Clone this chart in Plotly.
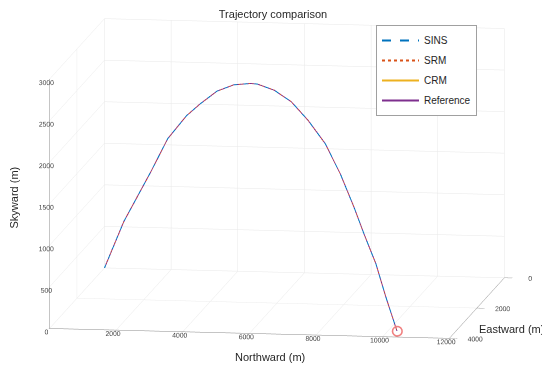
import plotly.graph_objects as go

# Trajectory samples (metres)
northward = [0, 680, 1630, 2220, 2880, 3350, 3950, 4540, 5130, 5370,
             5960, 6560, 7150, 7750, 8280, 8760, 9110, 9530, 9880, 10270]
eastward = [0, 239, 574, 781, 1014, 1179, 1390, 1598, 1806, 1890,
            2098, 2309, 2517, 2728, 2915, 3084, 3207, 3355, 3478, 3615]
skyward = [0, 610, 1280, 1720, 2045, 2220, 2420, 2540, 2600, 2610,
           2580, 2485, 2305, 2070, 1745, 1380, 1085, 755, 380, 0]

series_names = ["SINS", "SRM", "CRM", "Reference"]
series_colors = ["#0072BD", "#D95319", "#EDB120", "#7E2F8E"]
series_dash = ["dash", "dot", "solid", "solid"]
draw_order = [2, 3, 1, 0]  # CRM, Reference, SRM, SINS (legend keeps SINS..Reference)

x_ticks = [0, 2000, 4000, 6000, 8000, 10000, 12000]
y_ticks = [0, 2000, 4000]
z_ticks = [0, 500, 1000, 1500, 2000, 2500, 3000]

# Eastward axis runs toward the viewer (reversed direction)
east_plot = [-v for v in eastward]

fig = go.Figure()
for i in draw_order:
    fig.add_trace(go.Scatter3d(
        x=northward, y=east_plot, z=skyward, mode="lines", name=series_names[i],
        legendrank=i + 1, legendgroup=series_names[i],
        line=dict(color=series_colors[i], width=2, dash=series_dash[i])))

fig.add_trace(go.Scatter3d(
    x=[northward[-1]], y=[east_plot[-1]], z=[skyward[-1]], mode="markers",
    showlegend=False,
    marker=dict(symbol="circle-open", size=6, color="#F08080", line=dict(width=1, color="#F08080"))))

tickfont = dict(family="Liberation Sans, Arial, sans-serif", size=9, color="#404040")
axis_common = dict(showbackground=False, gridcolor="#E8E8E8", gridwidth=1,
                   showline=True, linecolor="#8C8C8C", linewidth=1,
                   ticks="outside", tickcolor="#8C8C8C", tickangle=0,
                   tickfont=tickfont, zeroline=False, showspikes=False,
                   title=dict(text=""))

S = 1.44
D = 3.2
fig.update_layout(
    width=550, height=368,
    margin=dict(l=0, r=0, t=0, b=0),
    paper_bgcolor="white",
    font=dict(family="Liberation Sans, Arial, sans-serif", color="#262626"),
    title=dict(text="Trajectory comparison", x=265 / 550, xanchor="center",
               y=1 - 6 / 368, yanchor="middle",
               pad=dict(t=0, b=0), font=dict(size=11, color="#262626")),
    showlegend=True,
    legend=dict(x=368 / 550, xanchor="left", y=1 - 17 / 368, yanchor="top",
                bgcolor="white", bordercolor="#A0A0A0", borderwidth=1,
                tracegroupgap=1, itemwidth=37,
                font=dict(size=10, color="#262626")),
    scene=dict(
        domain=dict(x=[0, 1], y=[0.046, 1.0]),
        xaxis=dict(range=[0, 12000], tickvals=x_ticks, ticktext=[str(v) for v in x_ticks],
                   ticklen=8, **axis_common),
        yaxis=dict(range=[-4000, 0], tickvals=[-v for v in y_ticks], ticktext=[str(v) for v in y_ticks],
                   ticklen=3, **axis_common),
        zaxis=dict(range=[0, 3000], tickvals=z_ticks, ticktext=[str(v) for v in z_ticks],
                   ticklen=2, **axis_common),
        aspectmode="manual",
        aspectratio=dict(x=1.6 * S, y=1.47 * S, z=1.0 * S),
        camera=dict(
            eye=dict(x=0.157 * D, y=-0.975 * D, z=0.156 * D),
            up=dict(x=0, y=0, z=1),
            center=dict(x=0.035, y=0, z=-0.028),
            projection=dict(type="orthographic")),
    ),
    annotations=[
        dict(text="Northward (m)", x=262 / 550, y=1 - 349 / 368, xref="paper", yref="paper",
             xanchor="center", yanchor="middle",
             showarrow=False, font=dict(size=11, color="#262626")),
        dict(text="Eastward (m)", x=503 / 550, y=1 - 321 / 368, xref="paper", yref="paper",
             xanchor="center", yanchor="middle",
             showarrow=False, font=dict(size=11, color="#262626")),
        dict(text="Skyward (m)", x=5.5 / 550, y=1 - 190 / 368, xref="paper", yref="paper",
             xanchor="center", yanchor="middle",
             showarrow=False, textangle=-90, font=dict(size=11, color="#262626")),
    ],
)

fig.write_html("out.html")
